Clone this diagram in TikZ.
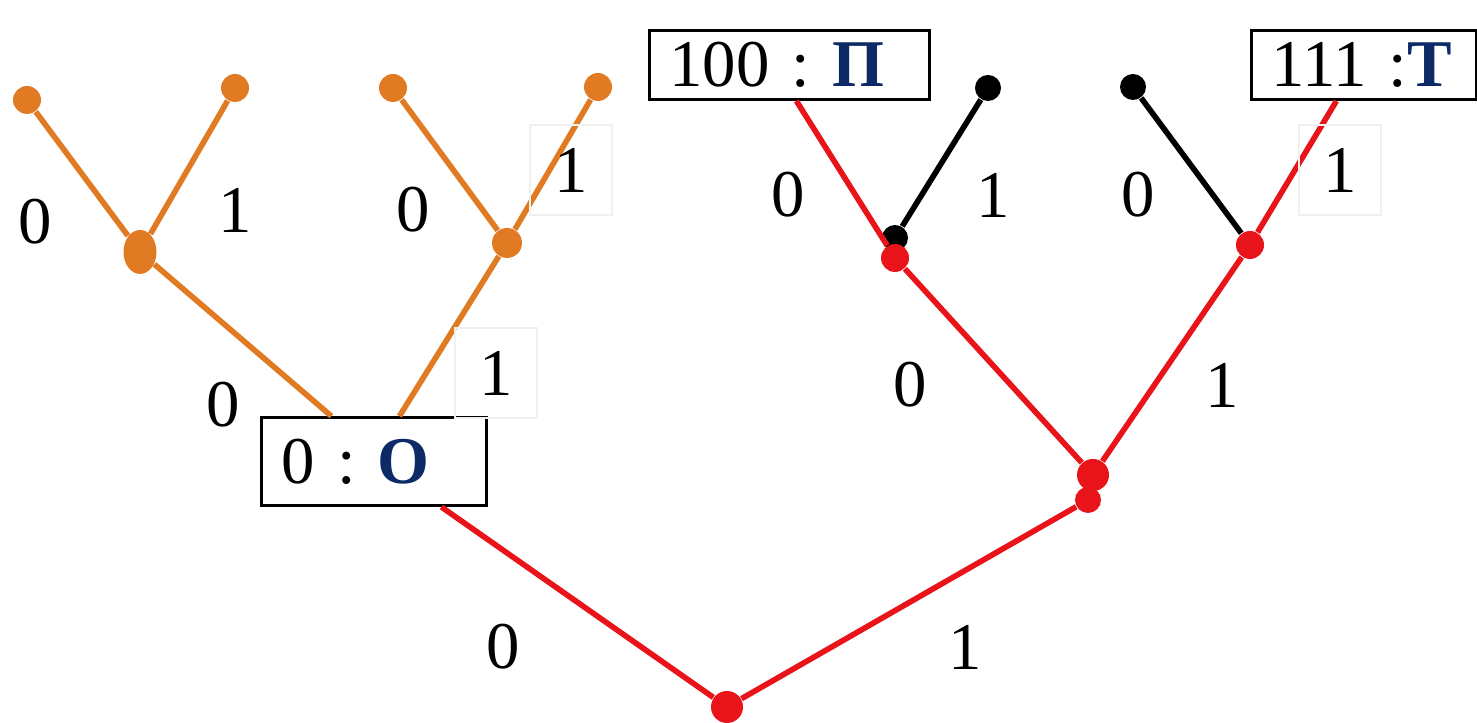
\documentclass[tikz,border=0pt]{standalone}
\usepackage{fontspec}
\setmainfont{Liberation Serif}
\usepackage{xcolor}
\definecolor{treeorange}{HTML}{E07B24}
\definecolor{treered}{HTML}{E8141A}
\definecolor{letterblue}{HTML}{0B2A66}
\usetikzlibrary{shapes.geometric}
\frenchspacing

\begin{document}
\begin{tikzpicture}[
  every node/.style={font=\fontsize{19}{22}\selectfont},
  dot/.style={circle,inner sep=0pt,minimum size=0.28cm},
  bit/.style={inner sep=0pt},
  bitbox/.style={draw=gray!12,minimum width=0.82cm,minimum height=0.9cm,inner sep=0pt},
  codebox/.style={draw,line width=0.8pt,inner xsep=0.2cm,inner ysep=0pt,align=left,anchor=south west},
  branch/.style={line width=1.6pt}
]
  \useasboundingbox (0,0) rectangle (14.77,7.23);
  % Code boxes: code word and its letter.
  \node[codebox,text width=1.85cm,minimum height=0.88cm] (o) at (2.60,2.16) {\mbox{0 : \textcolor{letterblue}{\textbf{О}}}};
  \node[codebox,text width=2.40cm,minimum height=0.69cm] (p) at (6.48,6.22) {\mbox{100 : \textcolor{letterblue}{\textbf{П}}}};
  \node[codebox,text width=1.85cm,minimum height=0.69cm] (t) at (12.50,6.22) {\mbox{111 :\textcolor{letterblue}{\textbf{Т}}}};
  \coordinate (o-top0) at ([xshift=-0.425cm]o.north);
  \coordinate (o-top1) at ([xshift=0.255cm]o.north);
  \coordinate (o-bot)  at ([xshift=0.675cm]o.south);
  \coordinate (p-bot)  at ([xshift=0.07cm]p.south);
  \coordinate (t-bot)  at ([xshift=-0.275cm]t.south);
  % Orange subtree above the box 0 : O.
  \node[ellipse,fill=treeorange,inner sep=0pt,minimum width=0.33cm,minimum height=0.44cm] (ol) at (1.40,4.71) {};
  \node[dot,fill=treeorange,minimum size=0.3cm] (or)  at (5.07,4.80) {};
  \node[dot,fill=treeorange] (ol0) at (0.27,6.23) {};
  \node[dot,fill=treeorange] (ol1) at (2.35,6.35) {};
  \node[dot,fill=treeorange] (or0) at (3.93,6.35) {};
  \node[dot,fill=treeorange] (or1) at (5.98,6.36) {};
  \draw[branch,treeorange] (o-top0) -- (ol) (o-top1) -- (or);
  \draw[branch,treeorange] (ol) -- (ol0) (ol) -- (ol1) (or) -- (or0) (or) -- (or1);
  % Red path from the root, black dead ends.
  \node[dot,fill=treered,minimum size=0.32cm] (root) at (7.27,0.16) {};
  \node[dot,fill=treered,minimum size=0.26cm] (r1b) at (10.88,2.23) {};
  \node[dot,fill=treered,minimum size=0.32cm] (r1) at (10.93,2.48) {};
  \node[dot,fill=black,minimum size=0.26cm] (pb) at (8.95,4.85) {};
  \node[dot,fill=treered,minimum size=0.28cm] (pr) at (8.95,4.65) {};
  \node[dot,fill=treered,minimum size=0.28cm] (tr) at (12.50,4.78) {};
  \node[dot,fill=black,minimum size=0.26cm] (b1) at (9.88,6.35) {};
  \node[dot,fill=black,minimum size=0.26cm] (b2) at (11.33,6.36) {};
  \draw[branch,treered] (root) -- (o-bot) (root) -- (r1b);
  \draw[branch,treered] (r1) -- (pr) (pr) -- (p-bot) (r1) -- (tr) (tr) -- (t-bot);
  \draw[branch,black] (pb) -- (b1) (tr) -- (b2);
  % Bit labels on the branches.
  \node[bit] (l1) at (0.35,5.01) {0};
  \node[bit] (l2) at (2.35,5.13) {1};
  \node[bit] (l3) at (4.13,5.13) {0};
  \node[bitbox] (l4) at (5.71,5.53) {1};
  \node[bit] (l5) at (2.23,3.18) {0};
  \node[bitbox] (l6) at (4.96,3.50) {1};
  \node[bit] (l7) at (7.88,5.28) {0};
  \node[bit] (l8) at (9.93,5.28) {1};
  \node[bit] (l9) at (11.38,5.28) {0};
  \node[bitbox] (l10) at (13.40,5.53) {1};
  \node[bit] (l11) at (9.10,3.38) {0};
  \node[bit] (l12) at (12.22,3.38) {1};
  \node[bit] (l13) at (5.03,0.76) {0};
  \node[bit] (l14) at (9.65,0.76) {1};
\end{tikzpicture}
\end{document}
